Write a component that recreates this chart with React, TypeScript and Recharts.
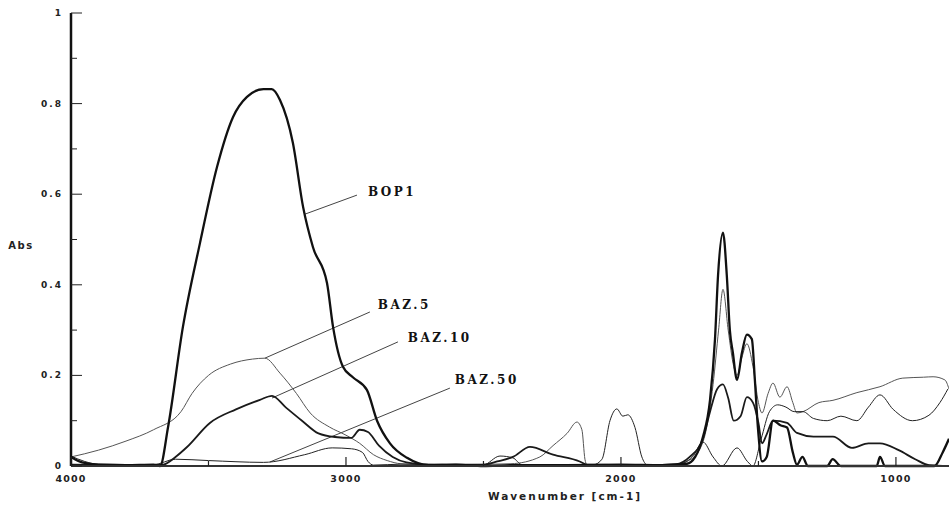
import React from 'react';
import { LineChart, Line, XAxis, YAxis, ReferenceLine, ReferenceDot } from 'recharts';

// wavenumber (cm-1) / absorbance
const bop1Wn = [4000, 3960, 3900, 3800, 3700, 3676, 3647, 3593, 3531, 3469, 3411, 3360, 3300, 3270, 3240, 3193, 3156, 3120, 3069, 3047, 3011, 2975, 2924, 2887, 2840, 2778, 2700, 2600, 2500, 2400, 2200, 2000, 1850, 1760, 1730, 1702, 1676, 1658, 1647, 1629, 1615, 1604, 1593, 1578, 1560, 1542, 1524, 1513, 1502, 1487, 1470, 1447, 1420, 1396, 1375, 1360, 1340, 1320, 1250, 1230, 1200, 1070, 1058, 1040, 860, 830, 807];
const bop1Abs = [0.02, 0.008, 0.003, 0.002, 0.003, 0.0, 0.086, 0.307, 0.492, 0.66, 0.77, 0.815, 0.832, 0.832, 0.808, 0.713, 0.572, 0.483, 0.404, 0.307, 0.219, 0.196, 0.168, 0.1, 0.05, 0.018, 0.002, 0.003, 0.0, 0.002, 0.002, 0.003, 0.002, 0.005, 0.02, 0.064, 0.146, 0.28, 0.42, 0.515, 0.42, 0.3, 0.25, 0.19, 0.25, 0.29, 0.28, 0.19, 0.085, 0.01, 0.02, 0.1, 0.09, 0.085, 0.03, 0.003, 0.02, 0.0, 0.0, 0.015, 0.0, 0.0, 0.02, 0.0, 0.0, 0.03, 0.06];

const baz5Wn = [4000, 3900, 3800, 3700, 3600, 3560, 3500, 3420, 3340, 3295, 3240, 3180, 3130, 3060, 3000, 2950, 2900, 2850, 2800, 2700, 2600, 2400, 2295, 2247, 2196, 2160, 2142, 2131, 2124, 2000, 1800, 1760, 1720, 1690, 1665, 1645, 1629, 1610, 1590, 1578, 1560, 1542, 1520, 1500, 1487, 1465, 1447, 1422, 1396, 1375, 1360, 1338, 1280, 1229, 1142, 1058, 975, 900, 865, 822, 807];
const baz5Abs = [0.02, 0.035, 0.055, 0.08, 0.12, 0.16, 0.2, 0.225, 0.236, 0.238, 0.205, 0.16, 0.117, 0.086, 0.068, 0.05, 0.025, 0.012, 0.005, 0.003, 0.003, 0.005, 0.02, 0.045, 0.072, 0.097, 0.08, 0.015, 0.003, 0.003, 0.003, 0.01, 0.03, 0.08, 0.18, 0.3, 0.39, 0.3, 0.22, 0.2, 0.24, 0.27, 0.22, 0.14, 0.117, 0.16, 0.183, 0.152, 0.175, 0.14, 0.117, 0.12, 0.14, 0.145, 0.162, 0.175, 0.194, 0.196, 0.197, 0.19, 0.17];

const baz10Wn = [4000, 3700, 3665, 3620, 3578, 3495, 3400, 3313, 3269, 3220, 3160, 3100, 3040, 2980, 2950, 2920, 2880, 2830, 2780, 2700, 2500, 2450, 2393, 2331, 2247, 2150, 2124, 1900, 1800, 1750, 1702, 1676, 1650, 1629, 1610, 1590, 1565, 1542, 1520, 1500, 1487, 1470, 1447, 1396, 1360, 1300, 1229, 1160, 1100, 1058, 990, 930, 880, 807];
const baz10Abs = [0.003, 0.002, 0.003, 0.02, 0.042, 0.095, 0.125, 0.146, 0.155, 0.13, 0.1, 0.072, 0.064, 0.062, 0.08, 0.075, 0.045, 0.02, 0.008, 0.003, 0.003, 0.01, 0.02, 0.042, 0.025, 0.01, 0.003, 0.002, 0.004, 0.02, 0.06, 0.12, 0.17, 0.18, 0.15, 0.1, 0.11, 0.152, 0.14, 0.095, 0.05, 0.07, 0.1, 0.095, 0.073, 0.065, 0.065, 0.04, 0.05, 0.05, 0.035, 0.015, 0.002, 0.0];

const baz50Wn = [4000, 3950, 3900, 3700, 3620, 3500, 3300, 3150, 3050, 2980, 2940, 2920, 2900, 2800, 2600, 2502, 2440, 2393, 2360, 2100, 2069, 2040, 2015, 1993, 1975, 1949, 1924, 1905, 1800, 1740, 1702, 1665, 1633, 1578, 1540, 1520, 1490, 1460, 1430, 1400, 1370, 1338, 1300, 1250, 1200, 1142, 1100, 1058, 1010, 940, 880, 840, 811];
const baz50Abs = [0.022, 0.01, 0.004, 0.003, 0.015, 0.012, 0.008, 0.025, 0.04, 0.038, 0.03, 0.01, 0.002, 0.004, 0.003, 0.002, 0.022, 0.018, 0.003, 0.003, 0.015, 0.1, 0.126, 0.11, 0.113, 0.085, 0.02, 0.003, 0.003, 0.02, 0.053, 0.02, 0.0, 0.04, 0.01, 0.0, 0.06, 0.12, 0.135, 0.13, 0.12, 0.12, 0.105, 0.1, 0.11, 0.1, 0.13, 0.157, 0.125, 0.1, 0.112, 0.14, 0.17];

const xTicks = [4000, 3500, 3000, 2500, 2000, 1500, 1000];
const xLabels = [4000, 3000, 2000, 1000];
const yTicks = [0, 0.1, 0.2, 0.3, 0.4, 0.5, 0.6, 0.7, 0.8, 0.9, 1];
const yLabels = [0, 0.2, 0.4, 0.6, 0.8, 1];

// label text, leader start (on curve) and end (at text)
const seriesNames = ['BOP1', 'BAZ.5', 'BAZ.10', 'BAZ.50'];
const leaderFrom = [[3149, 0.556], [3295, 0.238], [3269, 0.15], [3276, 0.009]];
const leaderTo = [[2960, 0.598], [2913, 0.34], [2811, 0.274], [2622, 0.172]];
const labelAt = [[2920, 0.605], [2884, 0.355], [2775, 0.283], [2604, 0.19]];

const zip = (wn: number[], ab: number[]) => wn.map((w, i) => ({ w, v: ab[i] }));
const bop1 = zip(bop1Wn, bop1Abs);
const baz5 = zip(baz5Wn, baz5Abs);
const baz10 = zip(baz10Wn, baz10Abs);
const baz50 = zip(baz50Wn, baz50Abs);

const tickFont = { fontFamily: '"DejaVu Sans", sans-serif', fontWeight: 700, fontSize: 9, fill: '#222' };

const XTick = (props: any) => {
  const { x, y, payload } = props;
  const major = xLabels.includes(payload.value);
  return (
    <g>
      <line x1={x} y1={y} x2={x} y2={y - (major ? 9 : 5)} stroke="#222" strokeWidth={1.2} />
      {major && (
        <text x={x} y={y + 16} textAnchor="middle" style={{ ...tickFont, fontSize: 9.5, letterSpacing: 1.2 }}>
          {payload.value}
        </text>
      )}
    </g>
  );
};

const YTick = (props: any) => {
  const { x, y, payload } = props;
  const v = Math.round(payload.value * 10) / 10;
  const major = yLabels.some((l) => Math.abs(l - v) < 1e-6);
  return (
    <g>
      <line x1={x} y1={y} x2={x + (major ? 11 : 6)} y2={y} stroke="#222" strokeWidth={1} />
      {major && (
        <text x={x - 8} y={y + 3} textAnchor="end" style={{ ...tickFont, letterSpacing: 2 }}>
          {String(v)}
        </text>
      )}
    </g>
  );
};

const XTitle = (props: any) => {
  const { viewBox } = props;
  return (
    <text x={565} y={viewBox.y + 34} textAnchor="middle" style={{ ...tickFont, fontSize: 10.5, letterSpacing: 2 }}>
      Wavenumber [cm-1]
    </text>
  );
};

const YTitle = () => (
  <text x={21} y={249} textAnchor="middle" style={{ ...tickFont, fontSize: 10, letterSpacing: 1.5 }}>
    Abs
  </text>
);

const NameTag = (name: string) => (props: any) => (
  <text
    x={props.cx}
    y={props.cy + 4}
    style={{ fontFamily: '"DejaVu Serif", serif', fontWeight: 700, fontSize: 12, letterSpacing: 2.5, fill: '#111' }}
  >
    {name}
  </text>
);

export default function App() {
  return (
    <div style={{ position: 'absolute', left: 0, top: 0, width: 949, height: 506, background: '#fff' }}>
      <LineChart width={949} height={506} margin={{ top: 13, right: 0, bottom: 0, left: 0 }}>
        <XAxis
          type="number"
          dataKey="w"
          domain={[807, 4000]}
          reversed
          allowDataOverflow
          ticks={xTicks}
          tickSize={0}
          tickMargin={0}
          tick={<XTick />}
          height={40}
          axisLine={{ stroke: '#333', strokeWidth: 2 }}
          label={<XTitle />}
        />
        <YAxis
          type="number"
          domain={[0, 1]}
          ticks={yTicks}
          tickSize={0}
          tickMargin={0}
          tick={<YTick />}
          width={71}
          axisLine={{ stroke: '#111', strokeWidth: 2.5 }}
          label={<YTitle />}
        />
        {seriesNames.map((n, i) => (
          <ReferenceLine
            key={'l' + n}
            segment={[
              { x: leaderFrom[i][0], y: leaderFrom[i][1] },
              { x: leaderTo[i][0], y: leaderTo[i][1] },
            ]}
            stroke="#444"
            strokeWidth={1}
            ifOverflow="visible"
          />
        ))}
        <Line data={baz5} dataKey="v" type="monotone" stroke="#555" strokeWidth={1} dot={false} isAnimationActive={false} />
        <Line data={baz50} dataKey="v" type="monotone" stroke="#222" strokeWidth={1} dot={false} isAnimationActive={false} />
        <Line data={baz10} dataKey="v" type="monotone" stroke="#1a1a1a" strokeWidth={1.8} dot={false} isAnimationActive={false} />
        <Line data={bop1} dataKey="v" type="monotone" stroke="#111" strokeWidth={2.3} dot={false} isAnimationActive={false} />
        {seriesNames.map((n, i) => (
          <ReferenceDot
            key={'t' + n}
            x={labelAt[i][0]}
            y={labelAt[i][1]}
            r={0}
            ifOverflow="visible"
            shape={NameTag(n)}
          />
        ))}
      </LineChart>
    </div>
  );
}
